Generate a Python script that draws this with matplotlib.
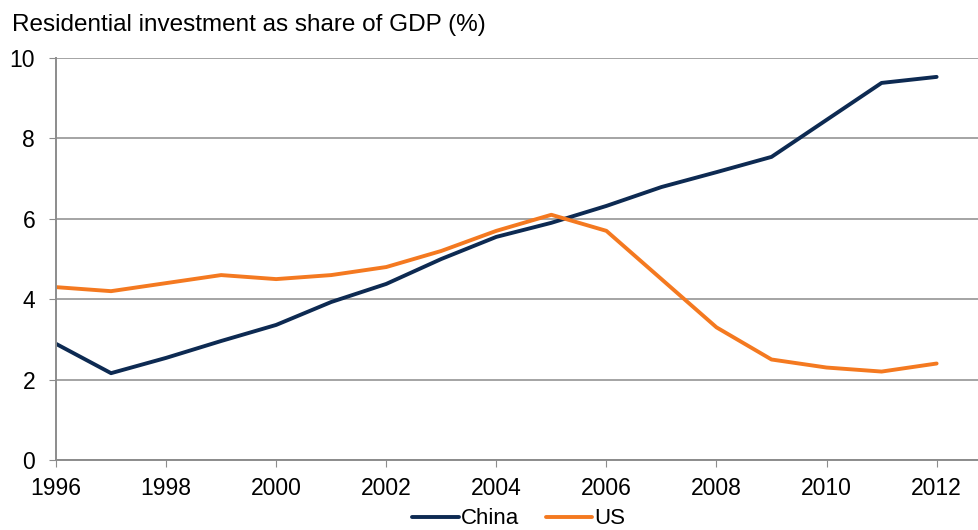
import matplotlib.pyplot as plt

plt.rcParams['font.family'] = ['Liberation Sans', 'DejaVu Sans']

years = list(range(1996, 2013))
china = [2.89, 2.16, 2.54, 2.96, 3.36, 3.93, 4.38, 5.00, 5.55, 5.90, 6.32,
         6.79, 7.16, 7.54, 8.46, 9.38, 9.53]
us = [4.3, 4.2, 4.4, 4.6, 4.5, 4.6, 4.8, 5.2, 5.7, 6.1, 5.7,
      4.5, 3.3, 2.5, 2.3, 2.2, 2.4]

fig = plt.figure(figsize=(9.79, 5.30), dpi=100)
ax = fig.add_axes([56 / 979, 1 - 460 / 530, 1 - 56 / 979, 402 / 530])

ax.plot(years, china, color='#0d2a52', lw=2.8, label='China', solid_capstyle='round')
ax.plot(years, us, color='#f47920', lw=2.8, label='US', solid_capstyle='round')

ax.set_xlim(1996, 2012.77)
ax.set_ylim(0, 10)
ax.set_xticks(range(1996, 2013, 2))
ax.set_yticks(range(0, 11, 2))
ax.yaxis.grid(True, color='#8c8c8c', lw=1.1)
ax.set_axisbelow(True)

for s in ['top', 'right']:
    ax.spines[s].set_visible(False)
for s in ['left', 'bottom']:
    ax.spines[s].set_color('#8c8c8c')
    ax.spines[s].set_linewidth(1.4)

ax.tick_params(axis='x', direction='out', length=5, color='#8c8c8c', labelsize=16.5, pad=7)
ax.tick_params(axis='y', direction='out', length=5, color='#8c8c8c', labelsize=16.5, pad=10)

fig.text(12 / 979, 1 - 25 / 530, 'Residential investment as share of GDP (%)',
         fontsize=17.5, va='center', ha='left')

fig.legend(loc='center', bbox_to_anchor=(0.53, 1 - 519 / 530), ncol=2, frameon=False,
           fontsize=16, handlelength=2.1, handletextpad=0.1, columnspacing=1.2)

fig.savefig('out.png', dpi=100)
